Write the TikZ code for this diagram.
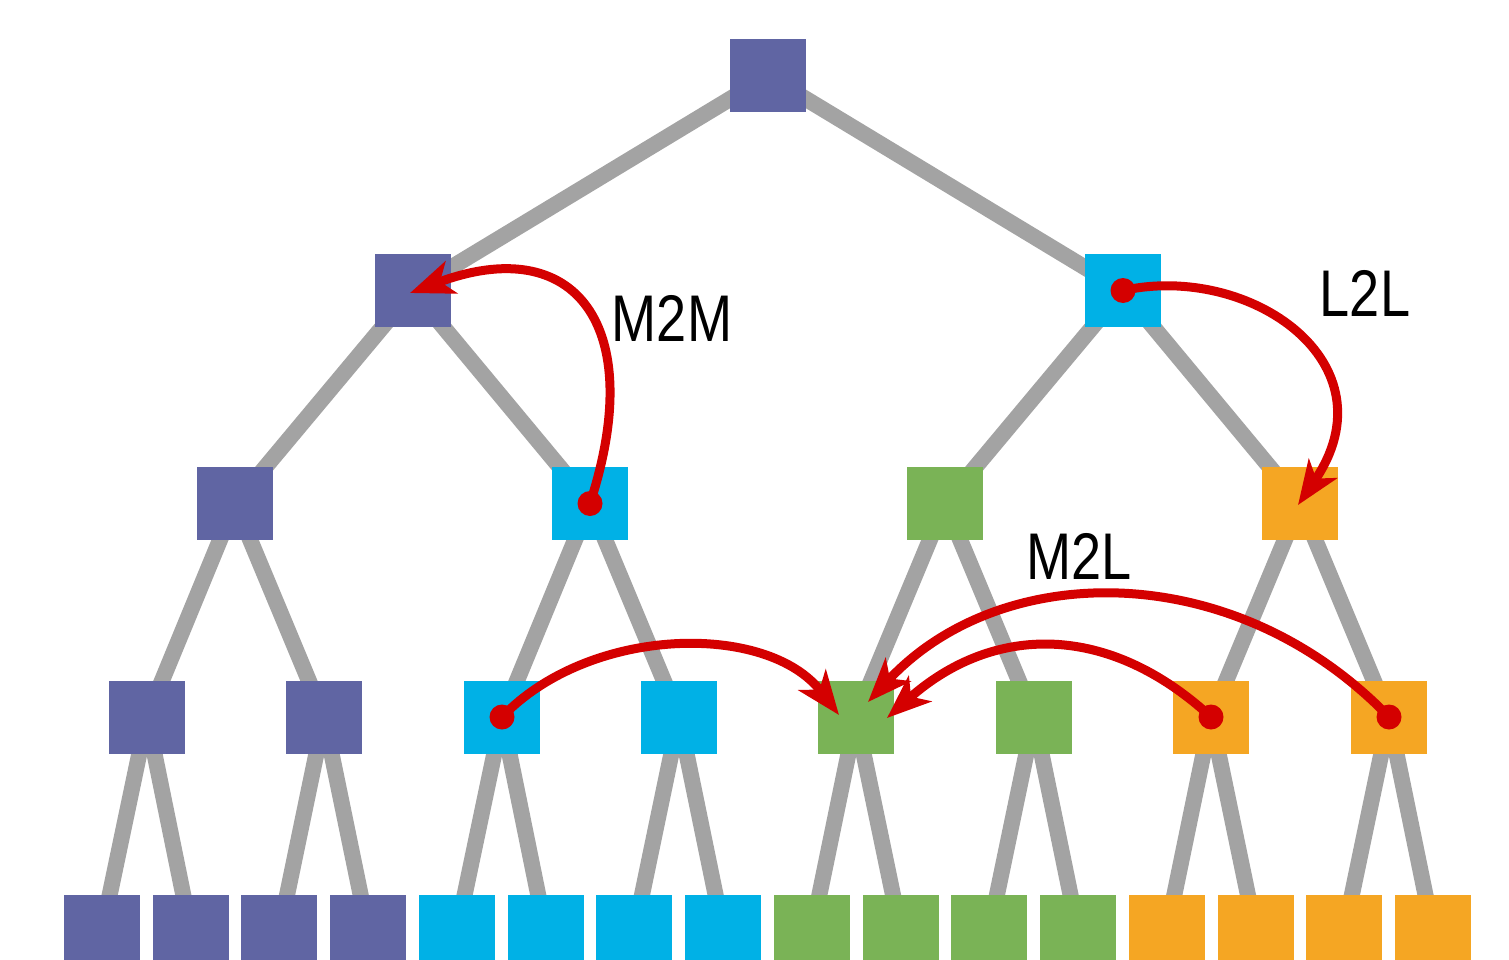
\documentclass[tikz,border=0pt]{standalone}
\usepackage{fontspec}
\setmainfont{Liberation Sans}[FakeStretch=0.82]
\usetikzlibrary{arrows.meta}
\definecolor{cpur}{HTML}{6065A3}
\definecolor{ccya}{HTML}{00B1E6}
\definecolor{cgrn}{HTML}{7AB356}
\definecolor{corg}{HTML}{F5A623}
\definecolor{cedge}{HTML}{A3A3A3}
\definecolor{cred}{HTML}{D40000}
\pgfdeclarelayer{bg}
\pgfsetlayers{bg,main}
\begin{document}
\begin{tikzpicture}[x=1pt,y=-1pt,
  box/.style={rectangle,minimum width=76pt,minimum height=73pt,inner sep=0pt,fill=#1},
  edge/.style={draw=cedge,line width=16pt},
  op/.style={draw=cred,line width=9pt,-{Stealth[length=44pt,width=34pt,inset=12pt]}},
  lbl/.style={font=\fontsize{66}{70}\selectfont,text=black,inner sep=0pt}]
\useasboundingbox (0,0) rectangle (1509,960);
\clip (0,0) rectangle (1509,960);
% level 0
\node[box=cpur] (r) at (768,76) {};
% level 1
\node[box=cpur] (a) at (413,290.5) {};
\node[box=ccya] (b) at (1123,290.5) {};
% level 2
\node[box=cpur] (a1) at (235,503.5) {};
\node[box=ccya] (a2) at (590,503.5) {};
\node[box=cgrn] (b1) at (945,503.5) {};
\node[box=corg] (b2) at (1300,503.5) {};
% level 3
\foreach \j/\xx/\c in {1/147/cpur,2/324/cpur,3/502/ccya,4/679/ccya,5/856/cgrn,6/1034/cgrn,7/1211/corg,8/1389/corg}
  \node[box=\c] (c\j) at (\xx,717) {};
% level 4
\foreach \i/\c in {1/cpur,2/cpur,3/cpur,4/cpur,5/ccya,6/ccya,7/ccya,8/ccya,9/cgrn,10/cgrn,11/cgrn,12/cgrn,13/corg,14/corg,15/corg,16/corg}
  \node[box=\c] (d\i) at ({102+88.73*(\i-1)},931.5) {};
% tree edges
\begin{pgfonlayer}{bg}
  \draw[edge] (r.center) -- (a.center);
  \draw[edge] (r.center) -- (b.center);
  \draw[edge] (a.center) -- (a1.center);
  \draw[edge] (a.center) -- (a2.center);
  \draw[edge] (b.center) -- (b1.center);
  \draw[edge] (b.center) -- (b2.center);
  \draw[edge] (a1.center) -- (c1.center);
  \draw[edge] (a1.center) -- (c2.center);
  \draw[edge] (a2.center) -- (c3.center);
  \draw[edge] (a2.center) -- (c4.center);
  \draw[edge] (b1.center) -- (c5.center);
  \draw[edge] (b1.center) -- (c6.center);
  \draw[edge] (b2.center) -- (c7.center);
  \draw[edge] (b2.center) -- (c8.center);
  \foreach \j in {1,...,8} {
    \pgfmathtruncatemacro\k{2*\j-1}
    \pgfmathtruncatemacro\m{2*\j}
    \draw[edge] (c\j.center) -- (d\k.center);
    \draw[edge] (c\j.center) -- (d\m.center);
  }
\end{pgfonlayer}
% operator arrows
\draw[op] (a2.center) .. controls +(58,-178) and +(165,-62) .. ([shift={(-3,2.5)}]a.center);
\draw[op] (b.center) .. controls +(127,-28) and +(97,-142) .. ([shift={(-2,1.5)}]b2.center);
\draw[op] (c3.center) .. controls +(88,-92) and +(-71,-93) .. ([shift={(-17,-2)}]c5.center);
\draw[op] (c7.center) .. controls +(-102,-94) and +(107,-95) .. ([shift={(31,1)}]c5.center);
\draw[op] (c8.center) .. controls +(-153,-159) and +(134,-144) .. ([shift={(12,-15)}]c5.center);
\foreach \n in {a2,b,c3,c7,c8}
  \fill[cred] (\n.center) circle[radius=12.5pt];
% labels
\node[lbl] (m2m) at (672,318.5) {M2M};
\node[lbl] (l2l) at (1365,293.5) {L2L};
\node[lbl] (m2l) at (1079,556.5) {M2L};
\end{tikzpicture}
\end{document}
